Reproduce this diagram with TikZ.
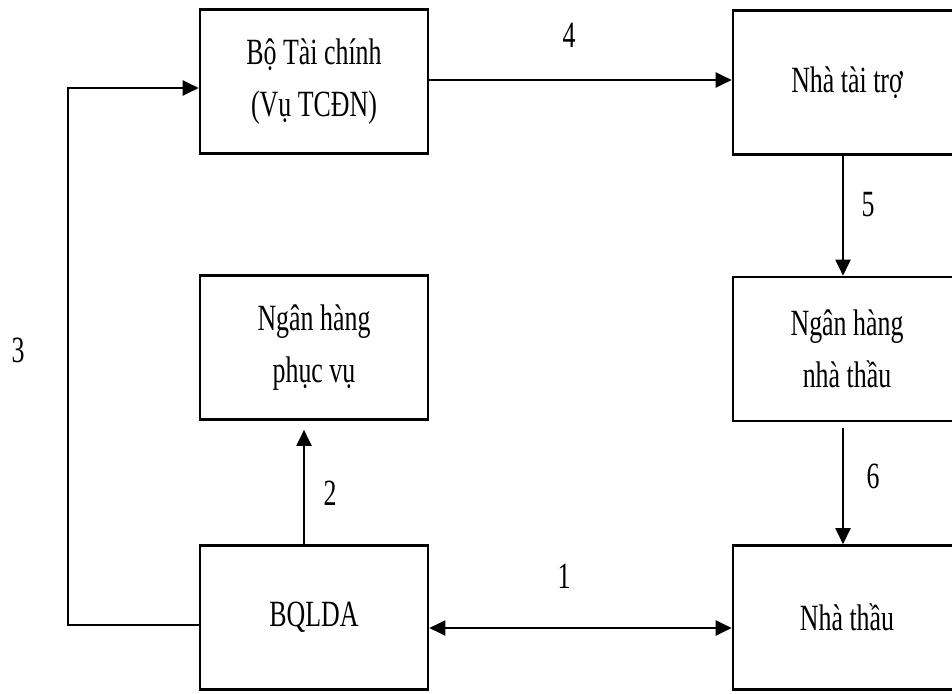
\documentclass[tikz,border=0pt]{standalone}
\usepackage{fontspec}
\setmainfont{Liberation Serif}[FakeStretch=0.7]
\usetikzlibrary{arrows.meta}
\begin{document}
\begin{tikzpicture}[x=1pt,y=-1pt,
  box/.style={draw=black,line width=2.6pt,minimum width=228pt,minimum height=144pt,inner sep=0pt,align=center,
    font=\fontsize{37}{52}\selectfont},
  arr/.style={line width=2pt,-{Triangle[length=16pt,width=15pt]}},
  darr/.style={line width=2pt,{Triangle[length=16pt,width=15pt]}-{Triangle[length=16pt,width=15pt]}},
  lbl/.style={font=\fontsize{37}{40}\selectfont,inner sep=0pt}]
\useasboundingbox (0,0) rectangle (952,693);
\fill[white] (0,0) rectangle (952,693);
\node[box] (bo)   at (314,81.5)  {Bộ Tài chính\\(Vụ TCĐN)};
\node[box] (ntt)  at (847,82.5)  {Nhà tài trợ};
\node[box] (nhpv) at (314,347.5) {Ngân hàng\\phục vụ};
\node[box] (nhnt) at (847,349)   {Ngân hàng\\nhà thầu};
\node[box] (bql)  at (314,617.5) {BQLDA};
\node[box] (nt)   at (847,617.5) {Nhà thầu};
\coordinate (c3) at (68,350);
% connectors
\draw[arr] ([yshift=1.5pt]bo.east) -- ([yshift=1.5pt]bo.east -| ntt.west);
\draw[arr] ([yshift=-7.5pt]bql.west) -| (c3) |- ([yshift=-6.5pt]bo.west);
\draw[arr] ([xshift=-10pt]bql.north) -- ([xshift=-10pt,yshift=-9pt]nhpv.south);
\draw[arr] ([xshift=-4pt]ntt.south) -- ([xshift=-4pt]nhnt.north);
\draw[arr] ([xshift=-4pt,yshift=-6pt]nhnt.south) -- ([xshift=-4pt]nt.north);
\draw[darr] ([yshift=-10.5pt]bql.east) -- ([yshift=-10.5pt]bql.east -| nt.west);
% labels
\node[lbl] (l4) at (569,35)  {4};
\node[lbl] (l3) at (18,350)  {3};
\node[lbl] (l2) at (330,493) {2};
\node[lbl] (l5) at (868,205) {5};
\node[lbl] (l6) at (873,476) {6};
\node[lbl] (l1) at (564,576) {1};
\end{tikzpicture}
\end{document}
